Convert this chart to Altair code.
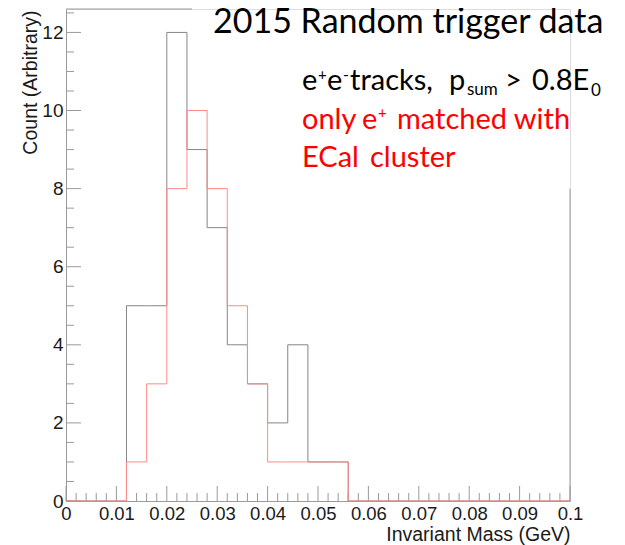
import altair as alt
import pandas as pd

# ---- data ----
bin_edges = [round(i * 0.004, 3) for i in range(26)]  # 25 bins, 0..0.1
black_counts = [0, 0, 0, 5, 5, 12, 9, 7, 4, 3, 2, 4, 1, 1, 0, 0, 0, 0, 0, 0, 0, 0, 0, 0, 0]
red_counts = [0, 0, 0, 1, 3, 8, 10, 8, 5, 3, 1, 1, 1, 1, 0, 0, 0, 0, 0, 0, 0, 0, 0, 0, 0]

x_major = [round(i * 0.01, 2) for i in range(11)]
x_minor = [round(i * 0.002, 3) for i in range(51) if i % 5 != 0]
y_major = [0, 2, 4, 6, 8, 10, 12]
y_minor = [i * 0.5 for i in range(26) if i % 4 != 0]

title_text = "2015 Random trigger data"
x_title = "Invariant Mass (GeV)"
y_title = "Count (Arbitrary)"

X_DOMAIN = [0, 0.1]
Y_DOMAIN = [0, 12.6]
AX = "#9a9a9a"
LABEL_FONT = "Liberation Sans"
ANN_FONT = "Lato"
TXT = 29


def hist_df(counts):
    return pd.DataFrame({"x": bin_edges, "y": counts + [counts[-1]]})


xs = alt.Scale(domain=X_DOMAIN, nice=False, zero=False)
ys = alt.Scale(domain=Y_DOMAIN, nice=False)

x_axis = alt.Axis(values=x_major, labelExpr="'' + datum.value", ticks=False,
                  domainColor=AX, grid=False, labelFont=LABEL_FONT, labelFontSize=18.5,
                  labelColor="#1a1a1a", labelPadding=3, title=x_title,
                  titleFont=LABEL_FONT, titleFontSize=19.5, titleFontWeight="normal",
                  titleColor="#1a1a1a", titleAnchor="end", titleAlign="right",
                  titleX=504, titleY=39, titleBaseline="alphabetic", labelFlush=False)
y_axis = alt.Axis(values=y_major, format="d", ticks=False, domainColor=AX, grid=False,
                  labelFont=LABEL_FONT, labelFontSize=19, labelColor="#1a1a1a",
                  labelPadding=3, title=y_title, titleFont=LABEL_FONT, titleFontSize=19.5,
                  titleFontWeight="normal", titleColor="#1a1a1a", titleAngle=270,
                  titleAlign="right", titleBaseline="middle", titleX=-36, titleY=1,
                  labelFlush=False)

black = alt.Chart(hist_df(black_counts)).mark_line(
    interpolate="step-after", color="#858585", strokeWidth=1
).encode(x=alt.X("x:Q", scale=xs, axis=x_axis), y=alt.Y("y:Q", scale=ys, axis=y_axis))

red = alt.Chart(hist_df(red_counts)).mark_line(
    interpolate="step-after", color="#ff8a8a", strokeWidth=1
).encode(x=alt.X("x:Q", scale=xs), y=alt.Y("y:Q", scale=ys))

# ticks pointing inward
xmaj = alt.Chart(pd.DataFrame({"t": x_major})).mark_rule(color=AX, strokeWidth=1).encode(
    x=alt.X("t:Q", scale=xs), y=alt.value(492), y2=alt.value(477))
xmin = alt.Chart(pd.DataFrame({"t": x_minor})).mark_rule(color=AX, strokeWidth=1).encode(
    x=alt.X("t:Q", scale=xs), y=alt.value(492), y2=alt.value(484))
ymaj = alt.Chart(pd.DataFrame({"t": y_major})).mark_rule(color=AX, strokeWidth=1).encode(
    y=alt.Y("t:Q", scale=ys), x=alt.value(0), x2=alt.value(15))
ymin = alt.Chart(pd.DataFrame({"t": y_minor})).mark_rule(color=AX, strokeWidth=1).encode(
    y=alt.Y("t:Q", scale=ys), x=alt.value(0), x2=alt.value(8))

# partial frame (rest hidden behind the text boxes)
top_border = alt.Chart(pd.DataFrame({"a": [0.0], "b": [0.025], "y": [Y_DOMAIN[1]]})).mark_rule(
    color=AX, strokeWidth=1).encode(x=alt.X("a:Q", scale=xs), x2="b:Q", y=alt.Y("y:Q", scale=ys))
right_border = alt.Chart(pd.DataFrame({"x": [0.1], "a": [0.0], "b": [8.0]})).mark_rule(
    color=AX, strokeWidth=1).encode(x=alt.X("x:Q", scale=xs), y=alt.Y("a:Q", scale=ys), y2="b:Q")


def label(text, x, y, size, color="#000000"):
    return alt.Chart(pd.DataFrame({"t": [text]})).mark_text(
        font=ANN_FONT, fontSize=size, color=color, align="left", baseline="alphabetic"
    ).encode(x=alt.value(x), y=alt.value(y), text="t:N")


RED = "#ff0000"
ann = [
    label(title_text, 147, 24, 34),
    label("e", 236, 81, TXT),
    label("+", 252, 71, 15),
    label("e", 261, 81, TXT),
    label("-", 277, 71, 16),
    label("tracks,", 284, 81, TXT),
    label("p", 383, 81, TXT),
    label("sum", 401, 86, 17),
    label(">", 439, 81, TXT),
    label("0.8E", 466, 81, TXT),
    label("0", 525, 87, 17),
    label("only", 236, 120, TXT, RED),
    label("e", 296, 120, TXT, RED),
    label("+", 312, 109, 15, RED),
    label("matched with", 331, 120, TXT, RED),
    label("ECal", 236, 158, TXT, RED),
    label("cluster", 304, 158, TXT, RED),
]

chart = alt.layer(
    xmin, xmaj, ymin, ymaj, top_border, right_border, black, red, *ann
).properties(
    width=504, height=492,
    padding={"left": 58, "top": 1, "right": 47, "bottom": 44},
    autosize=alt.AutoSizeParams(type="none"),
).configure_view(stroke=None).configure(background="white")

chart.save("out.html", embed_options={"renderer": "svg", "actions": False})
